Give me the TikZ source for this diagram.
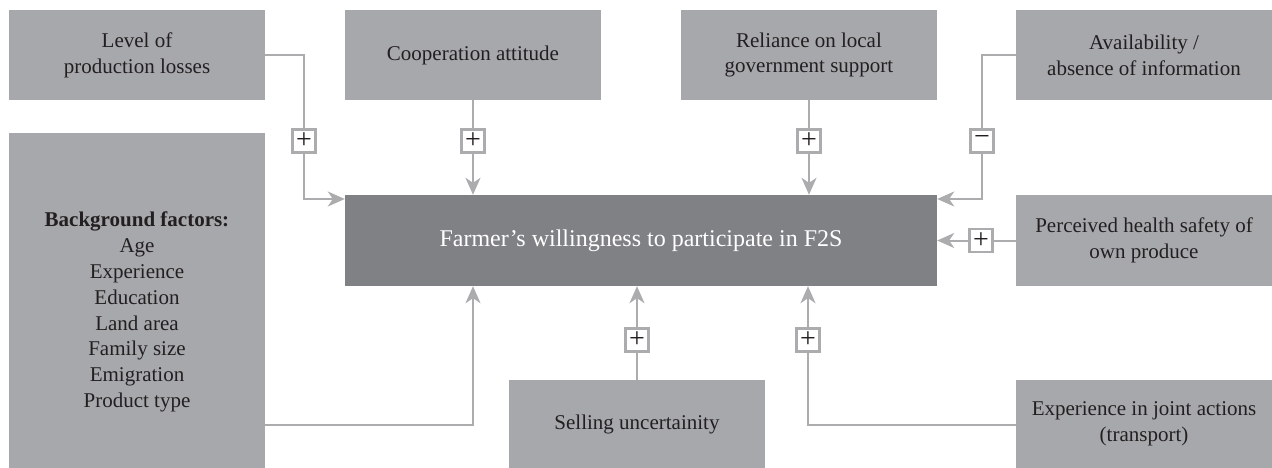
\documentclass[tikz,border=0pt]{standalone}
\usepackage{fontspec}
\setmainfont{Liberation Serif}
\usetikzlibrary{arrows.meta}
\definecolor{boxgray}{RGB}{167,168,172}
\definecolor{darkbox}{RGB}{128,129,133}
\definecolor{linegray}{RGB}{172,172,175}
\definecolor{txt}{RGB}{35,31,32}
\begin{document}
\begin{tikzpicture}[x=1pt,y=1pt,
  factor/.style={fill=boxgray, text=txt, minimum width=256pt, minimum height=90pt,
    inner sep=0pt, align=center, font=\fontsize{21}{25.8}\selectfont},
  central/.style={fill=darkbox, text=white, minimum width=592pt, minimum height=91pt,
    inner sep=0pt, font=\fontsize{24}{28}\selectfont},
  conn/.style={draw=linegray, line width=2pt, -{Stealth[length=17pt,width=15pt,inset=5pt]}},
  sign/.style={draw=linegray, fill=white, line width=2.5pt, minimum size=23pt,
    inner sep=0pt, font=\fontsize{28}{28}\selectfont, text=txt}]
\useasboundingbox (0,0) rectangle (1272,-468);

% factor boxes
\node[factor] (b1) at (137,-55) {Level of\\production losses};
\node[factor] (b2) at (473,-55) {Cooperation attitude};
\node[factor] (b3) at (809,-55) {Reliance on local\\government support};
\node[factor] (b4) at (1144,-55) {Availability /\\absence of information};
\node[factor, minimum height=335pt] (bg) at (137,-300.5) {};
\node[align=center, text=txt, inner sep=0pt, font=\fontsize{21}{25.8}\selectfont] (bgt) at (137,-312)
  {\textbf{Background factors:}\\Age\\Experience\\Education\\Land area\\Family size\\Emigration\\Product type};
\node[central] (cen) at (641,-240.5) {Farmer’s willingness to participate in F2S};
\node[factor, minimum height=91pt] (ph) at (1144,-240.5) {Perceived health safety of\\own produce};
\node[factor, minimum height=88pt] (su) at (637,-424) {Selling uncertainity};
\node[factor, minimum height=88pt] (ej) at (1144,-424) {Experience in joint actions\\(transport)};

% connectors
\coordinate (k1) at (304,-199);
\draw[conn] (b1.east) -| (k1) -- (k1 -| cen.west);
\draw[conn] (b2.south) -- (b2.south |- cen.north);
\draw[conn] (b3.south) -- (b3.south |- cen.north);
\coordinate (k4) at (982,-199);
\draw[conn] (b4.west) -| (k4) -- (k4 -| cen.east);
\draw[conn] (ph.west) -- (cen.east |- ph.west);
\coordinate (k5) at (473,-425);
\draw[conn] (bg.east |- k5) -- (k5) -- (k5 |- cen.south);
\draw[conn] (su.north) -- (su.north |- cen.south);
\coordinate (k6) at (808,-425);
\draw[conn] (ej.west |- k6) -- (k6) -- (k6 |- cen.south);

% signs
\node[sign] (s1) at (304,-141) {+};
\node[sign] (s2) at (473,-141) {+};
\node[sign] (s3) at (809,-141) {+};
\node[sign] (s4) at (982,-141) {−};
\node[sign] (s5) at (981,-240.5) {+};
\node[sign] (s6) at (637,-340) {+};
\node[sign] (s7) at (808,-340) {+};
\end{tikzpicture}
\end{document}
